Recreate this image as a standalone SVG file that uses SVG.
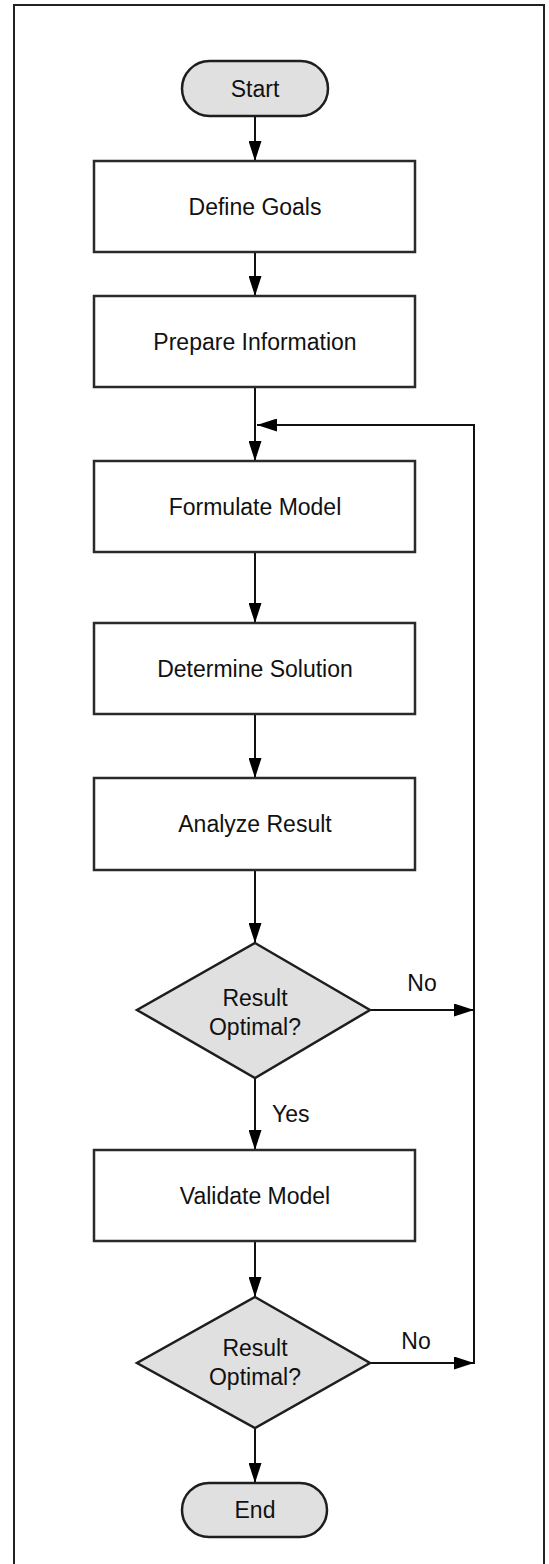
<svg xmlns="http://www.w3.org/2000/svg" width="549" height="1564" viewBox="0 0 549 1564">
  <style>
    text { font-family: "Liberation Sans", Arial, sans-serif; font-size: 23px; fill: #111; }
    .c { text-anchor: middle; }
    .box { fill: #ffffff; stroke: #2a2a2a; stroke-width: 2.5; }
    .shade { fill: #e0e0e0; stroke: #1e1e1e; stroke-width: 2.5; }
    .link { fill: none; stroke: #111; stroke-width: 2; }
    .frame { fill: none; stroke: #222; stroke-width: 2; }
  </style>
  <defs>
    <marker id="arrow" markerUnits="userSpaceOnUse" markerWidth="21" markerHeight="13" refX="20" refY="6.5" orient="auto">
      <path d="M0,0 L20,6.5 L0,13 z" fill="#000"/>
    </marker>
  </defs>

  <!-- page frame -->
  <path class="frame" d="M14,1564 L14,5 L544,5 L544,1564"/>

  <!-- connectors -->
  <g id="connectors">
    <line class="link" x1="255" y1="116" x2="255" y2="161" stroke-width="3" marker-end="url(#arrow)"/>
    <line class="link" x1="255" y1="252" x2="255" y2="296" marker-end="url(#arrow)"/>
    <line class="link" x1="255" y1="387" x2="255" y2="461" marker-end="url(#arrow)"/>
    <line class="link" x1="474" y1="425" x2="257" y2="425" marker-end="url(#arrow)"/>
    <line class="link" x1="474" y1="424" x2="474" y2="1364"/>
    <line class="link" x1="255" y1="552" x2="255" y2="623" marker-end="url(#arrow)"/>
    <line class="link" x1="255" y1="714" x2="255" y2="778" marker-end="url(#arrow)"/>
    <line class="link" x1="255" y1="870" x2="255" y2="943" marker-end="url(#arrow)"/>
    <line class="link" x1="370" y1="1010" x2="474" y2="1010" marker-end="url(#arrow)"/>
    <line class="link" x1="255" y1="1078" x2="255" y2="1150" marker-end="url(#arrow)"/>
    <line class="link" x1="255" y1="1241" x2="255" y2="1297" stroke-width="3" marker-end="url(#arrow)"/>
    <line class="link" x1="370" y1="1363" x2="474" y2="1363" marker-end="url(#arrow)"/>
    <line class="link" x1="255" y1="1428" x2="255" y2="1483" stroke-width="3" marker-end="url(#arrow)"/>
    <text x="422" y="991" class="c">No</text>
    <text x="272" y="1122">Yes</text>
    <text x="416" y="1349" class="c">No</text>
  </g>

  <g id="start">
    <rect class="shade" x="182" y="61" width="146" height="55" rx="27.5"/>
    <text x="255" y="97" class="c">Start</text>
  </g>

  <g id="define-goals">
    <rect class="box" x="94" y="161" width="321" height="91"/>
    <text x="255" y="215" class="c">Define Goals</text>
  </g>

  <g id="prepare-information">
    <rect class="box" x="94" y="296" width="321" height="91"/>
    <text x="255" y="350" class="c">Prepare Information</text>
  </g>

  <g id="formulate-model">
    <rect class="box" x="94" y="461" width="321" height="91"/>
    <text x="255" y="515" class="c">Formulate Model</text>
  </g>

  <g id="determine-solution">
    <rect class="box" x="94" y="623" width="321" height="91"/>
    <text x="255" y="677" class="c">Determine Solution</text>
  </g>

  <g id="analyze-result">
    <rect class="box" x="94" y="778" width="321" height="92"/>
    <text x="255" y="832" class="c">Analyze Result</text>
  </g>

  <g id="decision-1">
    <polygon class="shade" points="255,943 370,1010 255,1078 137,1010"/>
    <text x="255" y="1006" class="c">Result</text>
    <text x="255" y="1035" class="c">Optimal?</text>
  </g>

  <g id="validate-model">
    <rect class="box" x="94" y="1150" width="321" height="91"/>
    <text x="255" y="1204" class="c">Validate Model</text>
  </g>

  <g id="decision-2">
    <polygon class="shade" points="255,1297 370,1363 255,1428 137,1363"/>
    <text x="255" y="1356" class="c">Result</text>
    <text x="255" y="1385" class="c">Optimal?</text>
  </g>

  <g id="end">
    <rect class="shade" x="182" y="1483" width="145" height="54" rx="27"/>
    <text x="255" y="1518" class="c">End</text>
  </g>
</svg>
